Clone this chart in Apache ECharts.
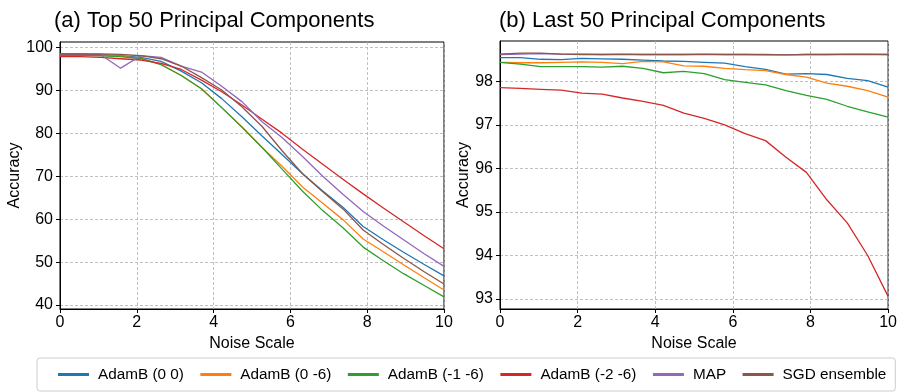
<!DOCTYPE html>
<html>
<head>
<meta charset="utf-8">
<script src="https://cdn.jsdelivr.net/npm/echarts@6/dist/echarts.min.js"></script>
<style>html,body{margin:0;padding:0;background:#fff}#c{width:900px;height:392px}</style>
</head>
<body>
<div id="c"></div>
<script>
// Noise scale sample points
var noiseScale = [0, 0.526, 1.053, 1.579, 2.105, 2.632, 3.158, 3.684, 4.211, 4.737, 5.263, 5.789, 6.316, 6.842, 7.368, 7.895, 8.421, 8.947, 9.474, 10];
var seriesNames = ['AdamB (0 0)', 'AdamB (0 -6)', 'AdamB (-1 -6)', 'AdamB (-2 -6)', 'MAP', 'SGD ensemble'];
var colors = ['#1f77b4', '#ff7f0e', '#2ca02c', '#d62728', '#9467bd', '#8c564b'];

// (a) Top 50 principal components
var topAdamB_0_0   = [98.4, 98.4, 98.3, 98.1, 97.7, 96.8, 94.5, 91.8, 88.1, 83.9, 79.4, 75.0, 70.6, 66.6, 62.8, 58.3, 55.2, 52.3, 49.5, 46.8];
var topAdamB_0_m6  = [98.3, 98.3, 98.2, 98.0, 97.5, 96.1, 93.5, 90.4, 86.0, 81.5, 76.7, 72.3, 67.5, 63.7, 59.9, 55.4, 52.4, 49.4, 46.4, 43.5];
var topAdamB_m1_m6 = [98.2, 98.2, 98.1, 97.9, 97.4, 96.0, 93.5, 90.4, 86.0, 81.5, 76.7, 71.6, 66.5, 62.0, 58.0, 53.5, 50.3, 47.3, 44.6, 41.9];
var topAdamB_m2_m6 = [97.9, 97.9, 97.7, 97.4, 97.1, 96.3, 94.9, 92.4, 89.7, 86.6, 83.3, 80.0, 76.3, 72.8, 69.3, 65.9, 62.6, 59.4, 56.2, 53.1];
var topMAP         = [98.5, 98.5, 98.4, 95.2, 98.1, 97.7, 95.7, 94.3, 91.0, 87.4, 82.7, 79.0, 74.6, 70.0, 65.8, 61.8, 58.4, 55.2, 52.0, 49.0];
var topSGD         = [98.5, 98.5, 98.5, 98.4, 98.1, 97.4, 95.7, 93.0, 90.1, 86.2, 81.6, 75.9, 70.6, 66.4, 62.4, 57.5, 54.1, 50.9, 47.8, 44.9];

// (b) Last 50 principal components
var lastAdamB_0_0   = [98.55, 98.55, 98.51, 98.50, 98.53, 98.52, 98.51, 98.49, 98.47, 98.46, 98.44, 98.42, 98.34, 98.28, 98.17, 98.18, 98.16, 98.07, 98.02, 97.87];
var lastAdamB_0_m6  = [98.44, 98.43, 98.43, 98.44, 98.45, 98.44, 98.41, 98.46, 98.45, 98.36, 98.35, 98.30, 98.27, 98.25, 98.16, 98.10, 97.96, 97.89, 97.79, 97.64];
var lastAdamB_m1_m6 = [98.44, 98.40, 98.34, 98.34, 98.34, 98.33, 98.35, 98.30, 98.20, 98.23, 98.18, 98.04, 97.98, 97.92, 97.79, 97.68, 97.59, 97.43, 97.30, 97.18];
var lastAdamB_m2_m6 = [97.86, 97.84, 97.82, 97.80, 97.73, 97.71, 97.62, 97.54, 97.45, 97.27, 97.15, 97.00, 96.80, 96.64, 96.26, 95.91, 95.28, 94.75, 94.00, 93.06];
var lastMAP         = [98.62, 98.63, 98.64, 98.63, 98.63, 98.62, 98.63, 98.62, 98.62, 98.62, 98.63, 98.62, 98.62, 98.61, 98.61, 98.62, 98.62, 98.63, 98.63, 98.62];
var lastSGD         = [98.63, 98.65, 98.65, 98.63, 98.62, 98.62, 98.62, 98.62, 98.62, 98.62, 98.62, 98.62, 98.62, 98.62, 98.61, 98.62, 98.62, 98.62, 98.62, 98.62];

// Tick labels
var xTicks = [0, 2, 4, 6, 8, 10];
var topYTicks = [40, 50, 60, 70, 80, 90, 100];
var lastYTicks = [93, 94, 95, 96, 97, 98];

var topData = [topAdamB_0_0, topAdamB_0_m6, topAdamB_m1_m6, topAdamB_m2_m6, topMAP, topSGD];
var lastData = [lastAdamB_0_0, lastAdamB_0_m6, lastAdamB_m1_m6, lastAdamB_m2_m6, lastMAP, lastSGD];

var FONT = 'Liberation Sans, Arial, sans-serif';
var gridLine = { show: true, lineStyle: { color: '#b0b0b0', width: 0.8, type: [3, 2] } };

function xAxis(idx) {
  return {
    type: 'value', gridIndex: idx, min: 0, max: 10, interval: 2,
    name: 'Noise Scale', nameLocation: 'middle', nameGap: 23,
    nameTextStyle: { color: '#000', fontSize: 16, fontFamily: FONT },
    axisLine: { show: true, lineStyle: { color: '#000', width: 1 } },
    axisTick: { show: true, length: 4, lineStyle: { color: '#000' }, customValues: xTicks },
    axisLabel: { color: '#000', fontSize: 16, fontFamily: FONT, margin: 6, customValues: xTicks },
    splitLine: gridLine
  };
}
function yAxis(idx, min, max, ticks, gap) {
  return {
    type: 'value', gridIndex: idx, min: min, max: max,
    name: 'Accuracy', nameLocation: 'middle', nameGap: gap,
    nameTextStyle: { color: '#000', fontSize: 16, fontFamily: FONT },
    axisLine: { show: true, lineStyle: { color: '#000', width: 1 } },
    axisTick: { show: true, length: 4, lineStyle: { color: '#000' }, customValues: ticks },
    axisLabel: { color: '#000', fontSize: 16, fontFamily: FONT, margin: 7, customValues: ticks },
    splitLine: gridLine
  };
}

var series = [];
[topData, lastData].forEach(function (group, g) {
  group.forEach(function (vals, i) {
    series.push({
      name: seriesNames[i], type: 'line', xAxisIndex: g, yAxisIndex: g,
      data: noiseScale.map(function (x, k) { return [x, vals[k]]; }),
      showSymbol: false, symbol: 'none',
      lineStyle: { color: colors[i], width: 1.3 },
      itemStyle: { color: colors[i] },
      z: 2 + i
    });
  });
});

var chart = echarts.init(document.getElementById('c'), null, { renderer: 'canvas' });
chart.setOption({
  animation: false,
  backgroundColor: '#fff',
  title: [
    { text: '(a) Top 50 Principal Components', left: 49, top: 5, textStyle: { fontSize: 22, fontWeight: 'normal', color: '#000', fontFamily: FONT } },
    { text: '(b) Last 50 Principal Components', left: 494, top: 5, textStyle: { fontSize: 22, fontWeight: 'normal', color: '#000', fontFamily: FONT } }
  ],
  legend: {
    data: seriesNames.map(function (n, i) { return { name: n, icon: 'rect', itemStyle: { color: colors[i] } }; }),
    left: 37, top: 358, width: 840,
    itemWidth: 31, itemHeight: 3, itemGap: 16.5,
    padding: [8, 9, 8, 21],
    borderColor: '#cccccc', borderWidth: 1, borderRadius: 3, backgroundColor: '#fff',
    textStyle: { color: '#000', fontSize: 15.3, fontFamily: FONT, lineHeight: 17, padding: [0, 0, 0, 4] },
    selectedMode: false
  },
  grid: [
    { left: 60, right: 456, top: 42, bottom: 83, show: true, borderColor: '#000', borderWidth: 1 },
    { left: 500, right: 7, top: 41, bottom: 83, show: true, borderColor: '#000', borderWidth: 1 }
  ],
  xAxis: [xAxis(0), xAxis(1)],
  yAxis: [yAxis(0, 39.07, 101.3, topYTicks, 36), yAxis(1, 92.77, 98.93, lastYTicks, 26)],
  series: series
});
</script>
</body>
</html>
